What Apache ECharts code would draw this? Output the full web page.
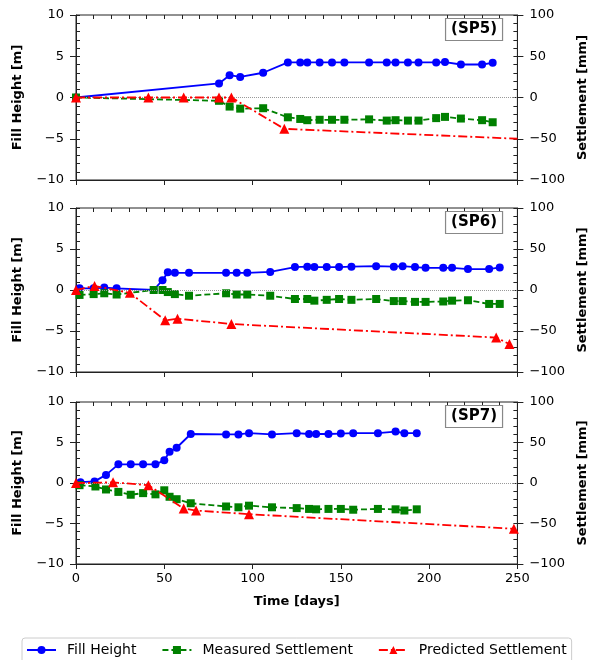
<!DOCTYPE html>
<html>
<head>
<meta charset="utf-8">
<script src="https://cdn.jsdelivr.net/npm/echarts@6/dist/echarts.min.js"></script>
<style>
  html, body { margin: 0; padding: 0; background: #fff; }
  #chart { width: 597px; height: 660px; }
</style>
</head>
<body>
<div id="chart"></div>
<script>
// SP5
var sp5FillDays = [0, 81, 87, 93, 106, 120, 127, 131, 138, 145, 152, 166, 176, 181, 188, 194, 204, 209, 218, 230, 236];
var sp5Fill = [0, 1.7, 2.7, 2.5, 3.0, 4.25, 4.25, 4.25, 4.25, 4.25, 4.25, 4.25, 4.25, 4.25, 4.25, 4.25, 4.25, 4.3, 4.0, 4.0, 4.2];
var sp5MeasDays = [0, 81, 87, 93, 106, 120, 127, 131, 138, 145, 152, 166, 176, 181, 188, 194, 204, 209, 218, 230, 236];
var sp5Meas = [0, -4, -11, -13.5, -13, -24, -26, -27.5, -27, -27, -27, -26.5, -28, -27.5, -28, -28, -25, -23.5, -25.5, -27.5, -30];
var sp5PredDays = [0, 41, 61, 81, 88, 118, 250];
var sp5Pred = [0, 0, 0, 0, 0, -38, -50];

// SP6
var sp6FillDays = [2, 10, 16, 23, 44, 49, 52, 56, 64, 85, 91, 97, 110, 124, 131, 135, 142, 149, 156, 170, 180, 185, 192, 198, 208, 213, 222, 234, 240];
var sp6Fill = [0.2, 0.2, 0.3, 0.2, 0, 1.2, 2.15, 2.1, 2.1, 2.1, 2.1, 2.1, 2.2, 2.8, 2.85, 2.8, 2.8, 2.8, 2.85, 2.9, 2.85, 2.9, 2.8, 2.7, 2.7, 2.7, 2.55, 2.55, 2.75];
var sp6MeasDays = [2, 10, 16, 23, 44, 49, 52, 56, 64, 85, 91, 97, 110, 124, 131, 135, 142, 149, 156, 170, 180, 185, 192, 198, 208, 213, 222, 234, 240];
var sp6Meas = [-6, -5, -4, -5.5, 0, 0, -2.5, -5, -7, -4, -5.5, -5.5, -7, -11, -11, -13, -12, -11, -12, -11, -13.5, -13.5, -14.5, -14.5, -14, -13, -12.5, -17, -17];
var sp6PredDays = [0, 10.5, 30.5, 50.5, 57.5, 88, 238, 245.5];
var sp6Pred = [0, 5, -3.5, -37, -35, -41.5, -58, -66];

// SP7
var sp7FillDays = [2.5, 10.5, 17, 24, 31, 38, 45, 50, 53, 57, 65, 85, 92, 98, 111, 125, 132, 136, 143, 150, 157, 171, 181, 186, 193];
var sp7Fill = [0.1, 0.2, 1.0, 2.3, 2.3, 2.3, 2.3, 2.8, 3.85, 4.35, 6.05, 6.0, 6.0, 6.15, 6.0, 6.15, 6.05, 6.05, 6.05, 6.1, 6.15, 6.15, 6.35, 6.15, 6.15];
var sp7MeasDays = [2, 11, 17, 24, 31, 38, 45, 50, 53, 57, 65, 85, 92, 98, 111, 125, 132, 136, 143, 150, 157, 171, 181, 186, 193];
var sp7Meas = [-2.7, -4.3, -8, -11, -14.5, -12.5, -14, -9, -17, -20, -25, -29, -30, -28, -30, -31, -32, -32.5, -32, -32, -33, -32, -32.5, -34, -32.5];
var sp7PredDays = [0, 21, 41, 61, 68, 98, 248];
var sp7Pred = [0, 0.8, -2.7, -31.5, -34, -38.5, -56.5];

var panelNames = ['(SP5)', '(SP6)', '(SP7)'];
var fillTicks = [-10, 10, 5];
var settleTicks = [-100, 100, 50];
var timeTicks = [0, 250, 50];

var FONT = 'DejaVu Sans';
var AXC = '#222';

function pairs(xs, ys, noMarkerLast) {
    var out = [];
    for (var i = 0; i < xs.length; i++) {
        if (noMarkerLast && i == xs.length - 1) {
            out.push({ value: [xs[i], ys[i]], symbol: 'none' });   // line runs off to the edge
        } else {
            out.push([xs[i], ys[i]]);
        }
    }
    return out;
}

function minusFmt(v) {
    return String(v).replace('-', '\u2212');
}

var gridPos = [
    { top: 15, height: 165 },
    { top: 208, height: 164 },
    { top: 402, height: 162 }
];

var panels = [
    { fd: sp5FillDays, f: sp5Fill, md: sp5MeasDays, m: sp5Meas, pd: sp5PredDays, p: sp5Pred, cut: true },
    { fd: sp6FillDays, f: sp6Fill, md: sp6MeasDays, m: sp6Meas, pd: sp6PredDays, p: sp6Pred, cut: false },
    { fd: sp7FillDays, f: sp7Fill, md: sp7MeasDays, m: sp7Meas, pd: sp7PredDays, p: sp7Pred, cut: false }
];

var grids = [], xAxes = [], yAxes = [], titles = [], series = [];
var xInner = [], yInner = [];

// inner copy of an axis: only the inward half of the major ticks + minor ticks
function innerAxis(base) {
    var a = {
        type: 'value', gridIndex: base.gridIndex,
        min: base.min, max: base.max, interval: base.interval,
        axisLine: { show: false, onZero: false },
        axisTick: { show: true, inside: true, length: 4, lineStyle: { color: AXC } },
        minorTick: { show: true, splitNumber: 5, length: 4, lineStyle: { color: AXC } },
        axisLabel: { show: false },
        splitLine: { show: false }
    };
    if (base.position) a.position = base.position;
    return a;
}

for (var i = 0; i < 3; i++) {
    grids.push({
        left: 76, right: 77, top: gridPos[i].top, height: gridPos[i].height,
        show: true, borderColor: AXC, borderWidth: 1, backgroundColor: 'transparent'
    });
    var last = (i == 2);
    var xa = {
        type: 'value', gridIndex: i,
        min: timeTicks[0], max: timeTicks[1], interval: timeTicks[2],
        name: last ? 'Time [days]' : '',
        nameLocation: 'middle', nameGap: 31,
        nameTextStyle: { fontFamily: FONT, fontWeight: 'bold', fontSize: 13, color: '#000' },
        axisLine: { show: true, onZero: false, lineStyle: { color: AXC, width: 1 } },
        axisTick: { show: true, inside: false, length: 5, lineStyle: { color: AXC } },
        axisLabel: { show: last, fontFamily: FONT, fontSize: 13, color: '#000', margin: 8 },
        splitLine: { show: false }
    };
    xAxes.push(xa);
    xInner.push(innerAxis(xa));

    var yl = {
        type: 'value', gridIndex: i, position: 'left',
        min: fillTicks[0], max: fillTicks[1], interval: fillTicks[2],
        name: 'Fill Height [m]', nameLocation: 'middle', nameGap: 52, nameRotate: 90,
        nameTextStyle: { fontFamily: FONT, fontWeight: 'bold', fontSize: 13, color: '#000' },
        axisLine: { show: true, onZero: false, lineStyle: { color: AXC, width: 1 } },
        axisTick: { show: true, length: 6, lineStyle: { color: AXC } },
        axisLabel: { fontFamily: FONT, fontSize: 13, color: '#000', margin: 12, formatter: minusFmt },
        splitLine: { show: false }
    };
    var yr = {
        type: 'value', gridIndex: i, position: 'right',
        min: settleTicks[0], max: settleTicks[1], interval: settleTicks[2],
        name: 'Settlement [mm]', nameLocation: 'middle', nameGap: 56, nameRotate: 90,
        nameTextStyle: { fontFamily: FONT, fontWeight: 'bold', fontSize: 13, color: '#000' },
        axisLine: { show: true, onZero: false, lineStyle: { color: AXC, width: 1 } },
        axisTick: { show: true, length: 6, lineStyle: { color: AXC } },
        axisLabel: { fontFamily: FONT, fontSize: 13, color: '#000', margin: 12, formatter: minusFmt },
        splitLine: { show: false }
    };
    yAxes.push(yl, yr);
    yInner.push(innerAxis(yl), innerAxis(yr));

    titles.push({
        text: panelNames[i], right: 94, top: gridPos[i].top + 3,
        borderColor: '#888', borderWidth: 1.2, padding: [4, 6, 4, 6],
        backgroundColor: '#fff',
        textStyle: { fontFamily: FONT, fontWeight: 'bold', fontSize: 15, color: '#000' }
    });

    var p = panels[i];
    series.push({
        name: 'Fill Height', type: 'line', xAxisIndex: i, yAxisIndex: 2 * i,
        data: pairs(p.fd, p.f, false),
        symbol: 'circle', symbolSize: 8,
        lineStyle: { color: '#0000ff', width: 1.8 },
        itemStyle: { color: '#0000ff' },
        z: 3,
        markLine: {
            silent: true, symbol: 'none', label: { show: false },
            lineStyle: { color: '#999', type: 'dotted', width: 1 },
            data: [{ yAxis: 0 }]
        }
    });
    series.push({
        name: 'Measured Settlement', type: 'line', xAxisIndex: i, yAxisIndex: 2 * i + 1,
        data: pairs(p.md, p.m, false),
        symbol: 'rect', symbolSize: 8,
        lineStyle: { color: '#008000', width: 1.8, type: [6, 3] },
        itemStyle: { color: '#008000' },
        z: 4
    });
    series.push({
        name: 'Predicted Settlement', type: 'line', xAxisIndex: i, yAxisIndex: 2 * i + 1,
        data: pairs(p.pd, p.p, p.cut),
        symbol: 'triangle', symbolSize: 10,
        lineStyle: { color: '#ff0000', width: 1.8, type: [9, 3, 2, 3] },
        itemStyle: { color: '#ff0000' },
        z: 5
    });
}

var dom = document.getElementById('chart');
var myChart = echarts.init(dom, null, { renderer: 'canvas' });

var option = {
    animation: false,
    backgroundColor: '#fff',
    title: titles,
    legend: {
        data: ['Fill Height', 'Measured Settlement', 'Predicted Settlement'],
        left: 22, top: 638,
        padding: [5, 5, 12, 4],
        itemWidth: 29, itemHeight: 10, itemGap: 25,
        borderColor: '#ccc', borderWidth: 1, borderRadius: 3,
        textStyle: { fontFamily: FONT, fontSize: 14, color: '#000', padding: [0, 0, 0, 6] }
    },
    grid: grids,
    xAxis: xAxes.concat(xInner),
    yAxis: yAxes.concat(yInner),
    series: series
};

myChart.setOption(option);
</script>
</body>
</html>
